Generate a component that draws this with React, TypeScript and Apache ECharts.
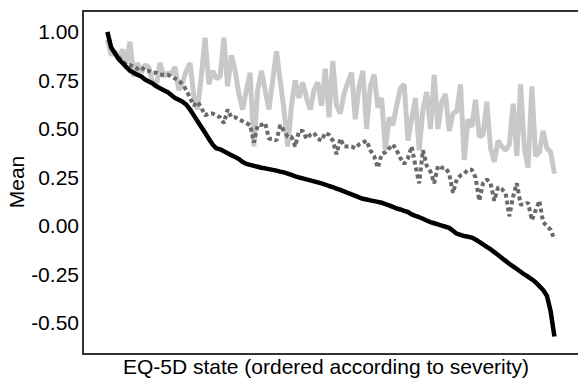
import React, { useEffect, useRef } from "react";
import * as echarts from "echarts";

// EQ-5D states, ordered according to severity (index only)
const stateIndex: number[] = Array.from({ length: 120 }, (_, i) => i);

// Black solid series
const seriesBlack: number[] = [
  1.0, 0.92, 0.89, 0.86, 0.84, 0.82, 0.8, 0.79, 0.78, 0.77,
  0.755, 0.745, 0.735, 0.72, 0.71, 0.7, 0.69, 0.675, 0.66, 0.65,
  0.64, 0.625, 0.6, 0.57, 0.54, 0.51, 0.48, 0.45, 0.42, 0.4,
  0.395, 0.385, 0.375, 0.365, 0.355, 0.345, 0.33, 0.32, 0.315, 0.31,
  0.305, 0.3, 0.297, 0.293, 0.289, 0.285, 0.28, 0.276, 0.27, 0.263,
  0.256, 0.25, 0.245, 0.24, 0.235, 0.23, 0.225, 0.219, 0.213, 0.206,
  0.2, 0.193, 0.186, 0.178, 0.17, 0.163, 0.155, 0.147, 0.14, 0.136,
  0.132, 0.128, 0.124, 0.12, 0.113, 0.106, 0.098, 0.09, 0.085, 0.078,
  0.072, 0.06, 0.052, 0.045, 0.037, 0.028, 0.02, 0.014, 0.008, 0.002,
  -0.004, -0.01, -0.025, -0.04, -0.046, -0.052, -0.056, -0.06, -0.07, -0.082,
  -0.095, -0.108, -0.12, -0.135, -0.15, -0.165, -0.18, -0.195, -0.208, -0.222,
  -0.236, -0.25, -0.262, -0.275, -0.29, -0.31, -0.33, -0.36, -0.44, -0.57,
];

// Dark grey dotted series
const seriesDark: number[] = [
  1.0, 0.92, 0.89, 0.87, 0.85, 0.83, 0.83, 0.82, 0.81, 0.82,
  0.8, 0.8, 0.79, 0.79, 0.78, 0.78, 0.78, 0.77, 0.76, 0.75,
  0.73, 0.7, 0.66, 0.62, 0.64, 0.61, 0.57, 0.58, 0.58, 0.57,
  0.56, 0.53, 0.6, 0.56, 0.56, 0.55, 0.54, 0.53, 0.52, 0.43,
  0.52, 0.52, 0.53, 0.45, 0.45, 0.44, 0.52, 0.49, 0.46, 0.46,
  0.41, 0.49, 0.49, 0.45, 0.47, 0.48, 0.45, 0.44, 0.48, 0.47,
  0.44, 0.37, 0.45, 0.41, 0.41, 0.41, 0.4, 0.42, 0.43, 0.44,
  0.39, 0.36, 0.3, 0.37, 0.38, 0.4, 0.42, 0.39, 0.35, 0.32,
  0.35, 0.41, 0.31, 0.22, 0.39, 0.31, 0.28, 0.22, 0.31, 0.3,
  0.3, 0.27, 0.17, 0.24, 0.26, 0.27, 0.29, 0.29, 0.25, 0.13,
  0.22, 0.24, 0.22, 0.13, 0.2, 0.19, 0.17, 0.05, 0.15, 0.22,
  0.11, 0.11, 0.12, 0.03, 0.08, 0.13, 0.02, 0.0, -0.02, -0.07,
];

// Light grey solid series
const seriesLight: number[] = [
  0.96, 0.88, 0.9, 0.86, 0.91, 0.84, 0.95, 0.77, 0.84, 0.79,
  0.83, 0.82, 0.74, 0.72, 0.84, 0.77, 0.79, 0.78, 0.82, 0.7,
  0.74, 0.8, 0.84, 0.67, 0.6, 0.77, 0.97, 0.73, 0.8, 0.76,
  0.77, 0.97, 0.72, 0.88, 0.8, 0.68, 0.6, 0.7, 0.79, 0.41,
  0.7, 0.8, 0.7, 0.6, 0.75, 0.9, 0.75, 0.6, 0.41, 0.62,
  0.75, 0.66, 0.74, 0.66, 0.6, 0.7, 0.74, 0.62, 0.81, 0.56,
  0.85, 0.62, 0.58, 0.68, 0.74, 0.79, 0.55, 0.72, 0.8, 0.5,
  0.72, 0.78, 0.61, 0.66, 0.39, 0.56, 0.52, 0.62, 0.71, 0.73,
  0.44, 0.55, 0.66, 0.39, 0.6, 0.69, 0.5, 0.78, 0.5, 0.64,
  0.68, 0.49, 0.58, 0.59, 0.73, 0.34, 0.55, 0.51, 0.65, 0.46,
  0.47, 0.64, 0.4, 0.33, 0.44, 0.41, 0.39, 0.42, 0.63, 0.36,
  0.73, 0.4, 0.3, 0.72, 0.36, 0.38, 0.49, 0.4, 0.38, 0.27,
];

const yTickValues: number[] = [-0.5, -0.25, 0, 0.25, 0.5, 0.75, 1.0];

const FONT = "'Liberation Sans', Arial, sans-serif";

export default function App() {
  const ref = useRef<HTMLDivElement>(null);
  useEffect(() => {
    if (!ref.current) return;
    const chart = echarts.init(ref.current, null, { renderer: "svg" });
    const pair = (arr: number[]) => stateIndex.map((x, i) => [x, arr[i]]);
    chart.setOption({
      animation: false,
      backgroundColor: "#ffffff",
      grid: {
        left: 83,
        top: 11,
        width: 514.6,
        height: 343,
        containLabel: false,
        outerBoundsMode: "none",
        show: true,
        borderColor: "#333",
        borderWidth: 2,
        backgroundColor: "transparent",
      },
      xAxis: {
        type: "value",
        min: -6.5,
        max: 130.5,
        axisLine: { show: false },
        axisTick: { show: false },
        axisLabel: { show: false },
        splitLine: { show: false },
      },
      yAxis: {
        type: "value",
        min: -0.66,
        max: 1.108,
        axisLine: { show: false },
        axisTick: { show: false },
        splitLine: { show: false },
        axisLabel: {
          customValues: yTickValues,
          formatter: (v: number) => v.toFixed(2),
          fontFamily: FONT,
          fontSize: 21,
          color: "#000",
          margin: 4,
        },
      },
      graphic: [
        {
          type: "text",
          x: 16,
          y: 182,
          rotation: Math.PI / 2,
          style: {
            text: "Mean",
            fontFamily: FONT,
            fontSize: 21,
            fill: "#000",
            align: "center",
            verticalAlign: "middle",
          },
        },
        {
          type: "text",
          x: 326,
          y: 366,
          style: {
            text: "EQ-5D state (ordered according to severity)",
            fontFamily: FONT,
            fontSize: 21,
            fill: "#000",
            align: "center",
            verticalAlign: "middle",
          },
        },
      ],
      series: [
        {
          type: "line",
          data: pair(seriesLight),
          showSymbol: false,
          lineStyle: { color: "#c8c8c8", width: 5 },
          z: 2,
        },
        {
          type: "line",
          data: pair(seriesDark),
          showSymbol: false,
          lineStyle: { color: "#6a6a6a", width: 4, type: [4, 3] },
          z: 3,
        },
        {
          type: "line",
          data: pair(seriesBlack),
          showSymbol: false,
          lineStyle: { color: "#000", width: 4.5 },
          z: 4,
        },
      ],
    });
    return () => chart.dispose();
  }, []);
  return (
    <div
      ref={ref}
      style={{ position: "absolute", left: 0, top: 0, width: 578, height: 378 }}
    />
  );
}
